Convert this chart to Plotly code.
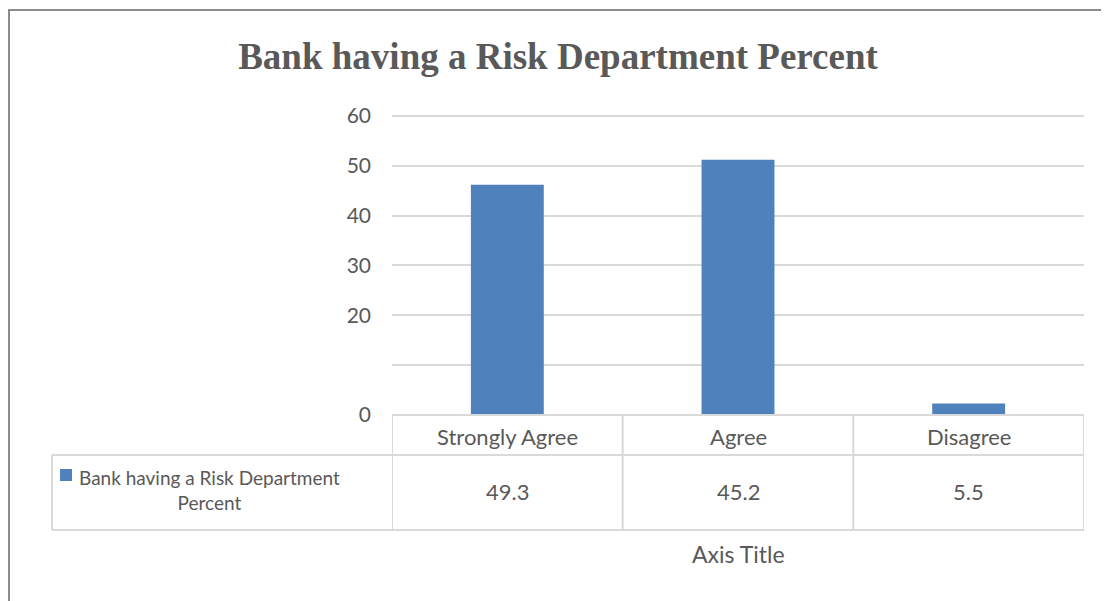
import plotly.graph_objects as go

categories = ["Strongly Agree", "Agree", "Disagree"]
bar_values = [46.2, 51.2, 2.3]          # bar heights as drawn
table_values = ["49.3", "45.2", "5.5"]   # values printed in the data table
series_name = "Bank having a Risk Department Percent"
y_tickvals = [0, 10, 20, 30, 40, 50, 60]
y_ticktext = ["0", "", "20", "30", "40", "50", "60"]

W, H = 1109, 601
OFF = 8  # page body margin
BLUE = "#4F81BD"
GRID = "#D9D9D9"
TXT = "#595959"
FONT = "Lato"
FS = 22

def px(x):
    return (x - OFF) / W

def py(y):
    return 1 - (y - OFF) / H

Y_MAX = 61
PX_PER_UNIT = (415 - 116) / 60.0

fig = go.Figure()
fig.add_trace(go.Bar(x=categories, y=bar_values, name=series_name,
                     marker=dict(color=BLUE, line=dict(width=0)), width=0.316,
                     showlegend=False))

shapes = []
# outer chart border
shapes.append(dict(type="rect", xref="paper", yref="paper", x0=px(9), x1=px(1125),
                   y0=py(620), y1=py(10), line=dict(color="#8C8C8C", width=2)))
# table lines
y_top, y_mid, y_bot = 415, 455, 530
for b in [-0.5, 0.5, 1.5, 2.5]:
    shapes.append(dict(type="line", xref="x", yref="paper", x0=b, x1=b,
                       y0=py(y_bot), y1=py(y_top), line=dict(color=GRID, width=2)))
shapes.append(dict(type="line", xref="paper", yref="paper", x0=px(52), x1=px(52),
                   y0=py(y_bot), y1=py(y_mid), line=dict(color=GRID, width=2)))
shapes.append(dict(type="line", xref="paper", yref="paper", x0=px(52), x1=px(1084),
                   y0=py(y_mid), y1=py(y_mid), line=dict(color=GRID, width=2)))
shapes.append(dict(type="line", xref="paper", yref="paper", x0=px(52), x1=px(1084),
                   y0=py(y_bot), y1=py(y_bot), line=dict(color=GRID, width=2)))
shapes.append(dict(type="line", xref="x", yref="paper", x0=-0.5, x1=2.5,
                   y0=py(y_top), y1=py(y_top), line=dict(color=GRID, width=2)))
# legend key square
shapes.append(dict(type="rect", xref="paper", yref="paper", x0=px(60), x1=px(72),
                   y0=py(481), y1=py(469), fillcolor=BLUE, line=dict(width=0)))

annotations = []
for c, v in zip(categories, table_values):
    annotations.append(dict(x=c, xref="x", y=py(436), yref="paper", text=c,
                            xanchor="center", yanchor="middle",
                            showarrow=False, font=dict(family=FONT, size=FS, color=TXT)))
    annotations.append(dict(x=c, xref="x", y=py(492), yref="paper", text=v,
                            xanchor="center", yanchor="middle",
                            showarrow=False, font=dict(family=FONT, size=FS, color=TXT)))
annotations.append(dict(x=px(209), xref="paper", y=py(490), yref="paper",
                        xanchor="center", yanchor="middle",
                        text="Bank having a Risk Department<br>Percent", align="center",
                        showarrow=False, font=dict(family=FONT, size=19, color=TXT)))
annotations.append(dict(x=1, xref="x", y=py(554), yref="paper", text="Axis Title",
                        xanchor="center", yanchor="middle",
                        showarrow=False, font=dict(family=FONT, size=23, color=TXT)))

fig.update_layout(
    width=W, height=H, autosize=False,
    margin=dict(l=0, r=0, t=0, b=0, pad=0, autoexpand=False),
    paper_bgcolor="white", plot_bgcolor="white",
    title=dict(text="<b>Bank having a Risk Department Percent</b>", automargin=False,
               x=px(558), xanchor="center", y=py(56), yanchor="middle",
               font=dict(family="Liberation Serif", size=37, color=TXT)),
    xaxis=dict(domain=[px(392), px(1084)], showticklabels=False, showgrid=False,
               zeroline=False, showline=False, range=[-0.5, 2.5], automargin=False),
    yaxis=dict(domain=[py(415), py(415 - Y_MAX * PX_PER_UNIT)], range=[0, Y_MAX],
               tickvals=y_tickvals,
               ticktext=y_ticktext, showgrid=True, gridcolor=GRID, gridwidth=2,
               zeroline=False, showline=False, ticks="", ticklabelstandoff=20,
               automargin=False,
               tickfont=dict(family=FONT, size=21, color=TXT)),
    shapes=shapes, annotations=annotations, bargap=0.684,
)

fig.write_html("out.html")
